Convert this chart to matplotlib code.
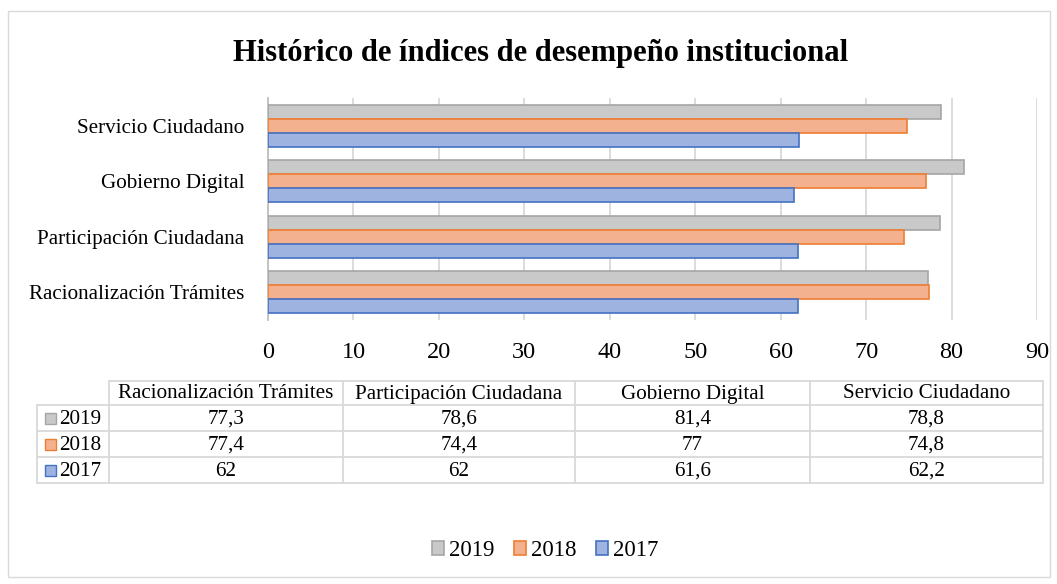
import matplotlib.pyplot as plt
from matplotlib.patches import Rectangle

# data
categories = ["Racionalización Trámites", "Participación Ciudadana",
              "Gobierno Digital", "Servicio Ciudadano"]
years = ["2019", "2018", "2017"]
values_2019 = [77.3, 78.6, 81.4, 78.8]
values_2018 = [77.4, 74.4, 77, 74.8]
values_2017 = [62, 62, 61.6, 62.2]
table_labels = {
    "2019": ["77,3", "78,6", "81,4", "78,8"],
    "2018": ["77,4", "74,4", "77", "74,8"],
    "2017": ["62", "62", "61,6", "62,2"],
}
x_ticks = [0, 10, 20, 30, 40, 50, 60, 70, 80, 90]

fills = {"2019": "#c9c9c9", "2018": "#f4b18f", "2017": "#9eb3df"}
edges = {"2019": "#a5a5a5", "2018": "#ed7d31", "2017": "#4472c4"}

plt.rcParams['font.family'] = ['Liberation Serif', 'DejaVu Serif']

W, H = 1057, 584
fig = plt.figure(figsize=(W / 100, H / 100), dpi=100)

# overlay axes in pixel coordinates for frame, table and squares
ov = fig.add_axes([0, 0, 1, 1])
ov.set_xlim(0, W)
ov.set_ylim(H, 0)
ov.axis('off')
ov.add_patch(Rectangle((8, 11), 1042, 566, fill=False, edgecolor='#d9d9d9', lw=1))

# bar chart
ax = fig.add_axes([268 / W, 1 - 320 / H, (1037 - 268) / W, 222 / H])
bh = 0.25
ys = list(range(len(categories)))
series = {"2019": values_2019, "2018": values_2018, "2017": values_2017}
offsets = {"2019": bh, "2018": 0, "2017": -bh}
handles = []
for yr in years:
    b = ax.barh([y + offsets[yr] for y in ys], series[yr], height=bh,
                color=fills[yr], edgecolor=edges[yr], linewidth=1.2, zorder=3)
    handles.append(b)
ax.set_xlim(0, 90)
ax.set_ylim(-0.5, 3.5)
ax.set_xticks(x_ticks)
ax.set_yticks(ys)
ax.set_yticklabels(categories, fontsize=15.2)
ax.tick_params(axis='x', labelsize=17.5, length=0, pad=16)
ax.tick_params(axis='y', length=0, pad=17)
ax.grid(axis='x', color='#d9d9d9', lw=1.3, zorder=0)
for s in ['top', 'right', 'bottom']:
    ax.spines[s].set_visible(False)
ax.spines['left'].set_color('#bfbfbf')
ax.spines['left'].set_linewidth(1.3)

fig.text(541 / W, 1 - 53 / H, "Histórico de índices de desempeño institucional",
         ha='center', va='center', fontsize=22, fontweight='bold')

# data table
col_x = [37, 109, 343, 575, 810, 1043]
row_y = [381, 405, 431, 457, 483]
lc = '#d9d9d9'
# header row lines (starts at first data column)
ov.plot([col_x[1], col_x[-1]], [row_y[0], row_y[0]], color=lc, lw=1.3)
for yy in row_y[1:]:
    ov.plot([col_x[0], col_x[-1]], [yy, yy], color=lc, lw=1.3)
ov.plot([col_x[0], col_x[0]], [row_y[1], row_y[-1]], color=lc, lw=1.3)
for xx in col_x[1:]:
    ov.plot([xx, xx], [row_y[0], row_y[-1]], color=lc, lw=1.3)
for i, cat in enumerate(categories):
    ov.text((col_x[i + 1] + col_x[i + 2]) / 2, (row_y[0] + row_y[1]) / 2 + 1, cat,
            ha='center', va='center', fontsize=15.2)
for r, yr in enumerate(years):
    yc = (row_y[r + 1] + row_y[r + 2]) / 2 + 1
    ov.add_patch(Rectangle((45, yc - 6), 11, 11, facecolor=fills[yr],
                           edgecolor=edges[yr], lw=1))
    ov.text(59, yc, yr, ha='left', va='center', fontsize=15.2)
    for i, lab in enumerate(table_labels[yr]):
        ov.text((col_x[i + 1] + col_x[i + 2]) / 2, yc, lab,
                ha='center', va='center', fontsize=15.2)

fig.legend(handles, years, loc='center', bbox_to_anchor=(545 / W, 1 - 551 / H),
           ncol=3, frameon=False, fontsize=16.5, handlelength=0.55, handleheight=0.55,
           handletextpad=0.2, columnspacing=0.85)

fig.savefig("out.png", dpi=100)
